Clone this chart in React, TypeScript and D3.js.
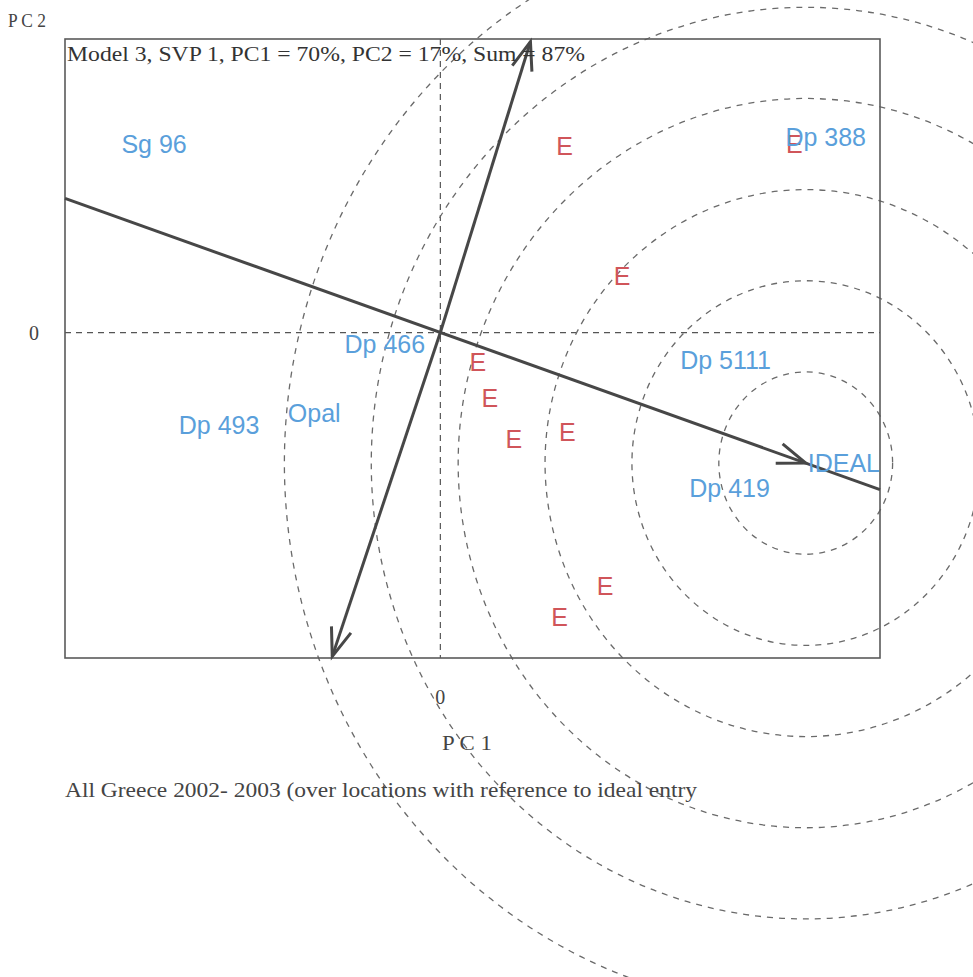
import React from "react";
import * as d3 from "d3";

// ---- data ----
const xDomain = [-4.32, 5.06];
const yDomain = [-3.57, 3.22];
const xTicks = [0];
const yTicks = [0];
const circleRadii = [1, 2, 3, 4, 5, 6];

const labelNames = ["Sg 96", "Dp 388", "Dp 466", "Dp 5111", "Dp 493", "Opal", "Dp 419"];
const labelU = [-3.295, 4.435, -0.639, 3.283, -2.546, -1.452, 3.329];
const labelV = [2.066, 2.142, -0.131, -0.306, -1.016, -0.885, -1.705];

const entryU = [1.429, 2.091, 4.073, 0.432, 0.57, 0.847, 1.463, 1.895, 1.371];
const entryV = [2.044, 0.623, 2.066, -0.328, -0.716, -1.169, -1.093, -2.781, -3.12];

const idealPoint = { name: "IDEAL", u: 4.205, v: -1.432 };
const arrowTipU = [1.037, -1.244];
const arrowTipV = [3.191, -3.552];

const titleText = "Model 3, SVP 1, PC1 = 70%, PC2 = 17%, Sum = 87%";
const captionText = "All Greece 2002- 2003 (over locations with reference to ideal entry";

// ---- layout ----
const W = 973;
const H = 977;
const box = { left: 65, right: 880, top: 39, bottom: 658 };

const BLUE = "#5a9fdb";
const RED = "#d0555a";
const INK = "#474747";
const SERIF = "'Liberation Serif', 'Times New Roman', serif";
const SANS = "'Liberation Sans', Arial, sans-serif";

function arrowHead(tx: number, ty: number, fx: number, fy: number, len = 30, ang = 20) {
  const a = Math.atan2(fy - ty, fx - tx);
  const r = (ang * Math.PI) / 180;
  const p1 = [tx + len * Math.cos(a + r), ty + len * Math.sin(a + r)];
  const p2 = [tx + len * Math.cos(a - r), ty + len * Math.sin(a - r)];
  return `M${p1[0]},${p1[1]}L${tx},${ty}L${p2[0]},${p2[1]}`;
}

export default function App() {
  const x = d3.scaleLinear().domain(xDomain).range([box.left, box.right]);
  const y = d3.scaleLinear().domain(yDomain).range([box.bottom, box.top]);
  const x0 = x(0);
  const y0 = y(0);

  // long line through origin in the direction of IDEAL, clipped to the box
  const slope = idealPoint.v / idealPoint.u;
  const lineL = [x(xDomain[0]), y(slope * xDomain[0])];
  const lineR = [x(xDomain[1]), y(slope * xDomain[1])];
  const ix = x(idealPoint.u);
  const iy = y(idealPoint.v);

  const cx = x(idealPoint.u);
  const cy = y(idealPoint.v);

  return (
    <svg
      width={W}
      height={H}
      style={{ position: "absolute", left: 0, top: 0, background: "#fff" }}
    >
      <rect x={0} y={0} width={W} height={H} fill="#fff" />

      {/* dashed reference lines */}
      <line x1={box.left} x2={box.right} y1={y0} y2={y0} stroke="#555" strokeWidth={1.2} strokeDasharray="6,5" />
      <line x1={x0} x2={x0} y1={box.top} y2={box.bottom} stroke="#555" strokeWidth={1.2} strokeDasharray="6,5" />

      {/* iso-distance circles around ideal */}
      {circleRadii.map((r) => (
        <ellipse
          key={r}
          cx={cx}
          cy={cy}
          rx={x(r) - x(0)}
          ry={y(0) - y(r)}
          fill="none"
          stroke="#6a6a6a"
          strokeWidth={1.3}
          strokeDasharray="6,6"
        />
      ))}

      {/* plot box */}
      <rect
        x={box.left}
        y={box.top}
        width={box.right - box.left}
        height={box.bottom - box.top}
        fill="none"
        stroke="#5a5a5a"
        strokeWidth={1.6}
      />

      {/* long axis line with arrow at IDEAL */}
      <line x1={lineL[0]} y1={lineL[1]} x2={lineR[0]} y2={lineR[1]} stroke={INK} strokeWidth={3} />
      <path d={arrowHead(ix, iy, x0, y0)} fill="none" stroke={INK} strokeWidth={3} />

      {/* variable arrows */}
      {arrowTipU.map((u, i) => {
        const tx = x(u);
        const ty = y(arrowTipV[i]);
        return (
          <g key={i}>
            <line x1={x0} y1={y0} x2={tx} y2={ty} stroke={INK} strokeWidth={3} />
            <path d={arrowHead(tx, ty, x0, y0)} fill="none" stroke={INK} strokeWidth={3} />
          </g>
        );
      })}

      {/* entries */}
      {entryU.map((u, i) => (
        <text
          key={"e" + i}
          x={x(u)}
          y={y(entryV[i])}
          textAnchor="middle"
          dominantBaseline="central"
          fontFamily={SANS}
          fontSize={25}
          fill={RED}
        >
          E
        </text>
      ))}

      {/* location labels */}
      {labelNames.map((n, i) => (
        <text
          key={n}
          x={x(labelU[i])}
          y={y(labelV[i])}
          textAnchor="middle"
          dominantBaseline="central"
          fontFamily={SANS}
          fontSize={25}
          fill={BLUE}
        >
          {n}
        </text>
      ))}
      <text
        x={ix + 2}
        y={iy}
        dominantBaseline="central"
        fontFamily={SANS}
        fontSize={25}
        fill={BLUE}
      >
        {idealPoint.name}
      </text>

      {/* title inside box */}
      <text x={67} y={61} fontFamily={SERIF} fontSize={20} fill="#333" textLength={518} lengthAdjust="spacingAndGlyphs">
        {titleText}
      </text>

      {/* tick labels */}
      {xTicks.map((t) => (
        <text key={"xt" + t} x={x(t)} y={697} textAnchor="middle" dominantBaseline="central" fontFamily={SERIF} fontSize={20} fill="#444">
          {t}
        </text>
      ))}
      {yTicks.map((t) => (
        <text key={"yt" + t} x={34} y={y(t)} textAnchor="middle" dominantBaseline="central" fontFamily={SERIF} fontSize={20} fill="#444">
          {t}
        </text>
      ))}

      {/* axis titles */}
      <text x={8} y={27} fontFamily={SERIF} fontSize={19} fill="#444" textLength={38} lengthAdjust="spacingAndGlyphs">
        P C 2
      </text>
      <text x={442} y={750} fontFamily={SERIF} fontSize={21} fill="#444" textLength={50} lengthAdjust="spacingAndGlyphs">
        P C 1
      </text>

      {/* caption */}
      <text x={65} y={797} fontFamily={SERIF} fontSize={22} fill="#444" textLength={632} lengthAdjust="spacingAndGlyphs">
        {captionText}
      </text>
    </svg>
  );
}
